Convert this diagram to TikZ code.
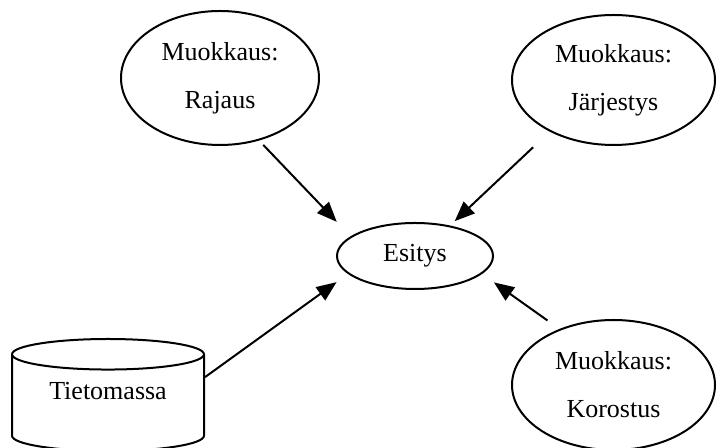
\documentclass[tikz,border=0pt]{standalone}
\usepackage{fontspec}
\setmainfont{Liberation Serif}
\usetikzlibrary{shapes.geometric}
\usetikzlibrary{arrows.meta}

\begin{document}
\begin{tikzpicture}[x=0.5pt, y=0.5pt, line width=1pt,
    every node/.style={font=\fontsize{13}{24}\selectfont},
    muok/.style={ellipse, draw=black, inner sep=0pt, align=center, minimum width=101.5pt, minimum height=65pt},
    nuoli/.style={-{Triangle[length=10pt, width=8pt]}}]
          \useasboundingbox (0, 0) rectangle (717, 448);
          \node[muok, minimum width=99pt, minimum height=67pt] (Raj) at (220, 370) {Muokkaus:\\Rajaus};
          \node[muok] (Jar) at (613.5, 368) {Muokkaus:\\Järjestys};
          \node[muok] (Kor) at (613.5, 63) {Muokkaus:\\Korostus};
          \node[ellipse, draw=black, inner sep=0pt, minimum width=78pt, minimum height=33pt] (Esi) at (415, 192) {Esitys};
          \node[cylinder, shape border rotate=90, aspect=0.26, draw=black, inner sep=0pt, text depth=12pt,
                minimum width=96pt, minimum height=56pt, anchor=shape center] (Tie) at (108, 53) {Tietomassa}; % tietokanta

          \draw[nuoli, shorten <=3pt, shorten >=10pt] (Raj.-58) -- (Esi.163);
          \draw[nuoli, shorten <=11.4pt, shorten >=3.2pt] (Jar.219) -- (Esi.41);
          \draw[nuoli, shorten >=7pt] (Tie.15) -- (Esi.195);
          \draw[nuoli, shorten <=7.3pt, shorten >=7.3pt] (Kor.134) -- (Esi.-15);
        \end{tikzpicture}
\end{document}
